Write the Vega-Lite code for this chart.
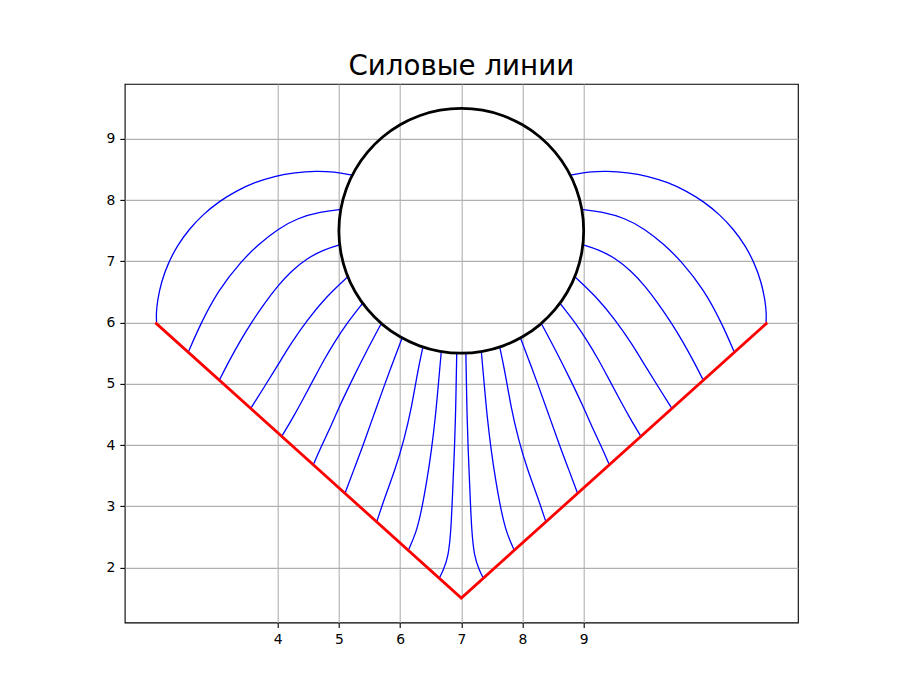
{
  "$schema": "https://vega.github.io/schema/vega-lite/v6.json",
  "width": 673.2,
  "height": 538.6,
  "autosize": {"type": "none"},
  "padding": {"left": 124.7, "top": 83.9, "right": 102.1, "bottom": 77.5},
  "background": "white",
  "title": {"text": "Силовые линии", "font": "DejaVu Sans", "fontSize": 27.7, "fontWeight": "normal", "color": "black", "anchor": "middle", "baseline": "alphabetic", "offset": -19},
  "config": {
    "view": {"stroke": "black", "strokeWidth": 1.1},
    "axis": {"labelFont": "DejaVu Sans", "labelFontSize": 13.9, "labelColor": "black", "tickColor": "black", "tickSize": 4.9, "tickWidth": 1.1, "labelPadding": 4.9, "gridColor": "#b0b0b0", "gridWidth": 1.1, "gridOpacity": 1, "domain": false, "title": null, "labelFlush": false, "format": "d"}
  },
  "datasets": {
    "field": [
      {"line": "L1", "i": 0, "x": 5.22, "y": 8.41}, {"line": "L1", "i": 1, "x": 4.92, "y": 8.464}, {"line": "L1", "i": 2, "x": 4.626, "y": 8.477}, {"line": "L1", "i": 3, "x": 4.283, "y": 8.453}, {"line": "L1", "i": 4, "x": 3.949, "y": 8.394}, {"line": "L1", "i": 5, "x": 3.626, "y": 8.292}, {"line": "L1", "i": 6, "x": 3.319, "y": 8.15}, {"line": "L1", "i": 7, "x": 3.034, "y": 7.974}, {"line": "L1", "i": 8, "x": 2.778, "y": 7.765}, {"line": "L1", "i": 9, "x": 2.551, "y": 7.525}, {"line": "L1", "i": 10, "x": 2.361, "y": 7.26}, {"line": "L1", "i": 11, "x": 2.211, "y": 6.974}, {"line": "L1", "i": 12, "x": 2.101, "y": 6.673}, {"line": "L1", "i": 13, "x": 2.034, "y": 6.359}, {"line": "L1", "i": 14, "x": 2.015, "y": 6.15}, {"line": "L1", "i": 15, "x": 2.02, "y": 6.01},
      {"line": "L2", "i": 0, "x": 5.03, "y": 7.85}, {"line": "L2", "i": 1, "x": 4.7, "y": 7.81}, {"line": "L2", "i": 2, "x": 4.33, "y": 7.71}, {"line": "L2", "i": 3, "x": 4.0, "y": 7.53}, {"line": "L2", "i": 4, "x": 3.69, "y": 7.28}, {"line": "L2", "i": 5, "x": 3.4, "y": 7.0}, {"line": "L2", "i": 6, "x": 3.03, "y": 6.53}, {"line": "L2", "i": 7, "x": 2.742, "y": 5.987}, {"line": "L2", "i": 8, "x": 2.54, "y": 5.52},
      {"line": "L3", "i": 0, "x": 5.013, "y": 7.27}, {"line": "L3", "i": 1, "x": 4.75, "y": 7.19}, {"line": "L3", "i": 2, "x": 4.48, "y": 7.05}, {"line": "L3", "i": 3, "x": 4.22, "y": 6.84}, {"line": "L3", "i": 4, "x": 4.0, "y": 6.6}, {"line": "L3", "i": 5, "x": 3.78, "y": 6.31}, {"line": "L3", "i": 6, "x": 3.57, "y": 6.0}, {"line": "L3", "i": 7, "x": 3.38, "y": 5.69}, {"line": "L3", "i": 8, "x": 3.21, "y": 5.38}, {"line": "L3", "i": 9, "x": 3.046, "y": 5.06},
      {"line": "L4", "i": 0, "x": 5.146, "y": 6.751}, {"line": "L4", "i": 1, "x": 4.8, "y": 6.43}, {"line": "L4", "i": 2, "x": 4.479, "y": 6.04}, {"line": "L4", "i": 3, "x": 4.217, "y": 5.66}, {"line": "L4", "i": 4, "x": 4.0, "y": 5.3}, {"line": "L4", "i": 5, "x": 3.776, "y": 4.94}, {"line": "L4", "i": 6, "x": 3.56, "y": 4.6},
      {"line": "L5", "i": 0, "x": 5.388, "y": 6.316}, {"line": "L5", "i": 1, "x": 5.13, "y": 5.99}, {"line": "L5", "i": 2, "x": 4.94, "y": 5.7}, {"line": "L5", "i": 3, "x": 4.76, "y": 5.4}, {"line": "L5", "i": 4, "x": 4.58, "y": 5.06}, {"line": "L5", "i": 5, "x": 4.41, "y": 4.74}, {"line": "L5", "i": 6, "x": 4.245, "y": 4.44}, {"line": "L5", "i": 7, "x": 4.065, "y": 4.14},
      {"line": "L6", "i": 0, "x": 5.693, "y": 5.986}, {"line": "L6", "i": 1, "x": 5.443, "y": 5.518}, {"line": "L6", "i": 2, "x": 5.214, "y": 5.06}, {"line": "L6", "i": 3, "x": 5.018, "y": 4.652}, {"line": "L6", "i": 4, "x": 4.855, "y": 4.276}, {"line": "L6", "i": 5, "x": 4.708, "y": 3.966}, {"line": "L6", "i": 6, "x": 4.582, "y": 3.68},
      {"line": "L7", "i": 0, "x": 6.033, "y": 5.749}, {"line": "L7", "i": 1, "x": 5.884, "y": 5.355}, {"line": "L7", "i": 2, "x": 5.753, "y": 5.002}, {"line": "L7", "i": 3, "x": 5.574, "y": 4.505}, {"line": "L7", "i": 4, "x": 5.399, "y": 4.002}, {"line": "L7", "i": 5, "x": 5.247, "y": 3.606}, {"line": "L7", "i": 6, "x": 5.1, "y": 3.21},
      {"line": "L8", "i": 0, "x": 6.372, "y": 5.601}, {"line": "L8", "i": 1, "x": 6.281, "y": 5.17}, {"line": "L8", "i": 2, "x": 6.19, "y": 4.624}, {"line": "L8", "i": 3, "x": 6.064, "y": 4.08}, {"line": "L8", "i": 4, "x": 5.917, "y": 3.59}, {"line": "L8", "i": 5, "x": 5.753, "y": 3.154}, {"line": "L8", "i": 6, "x": 5.618, "y": 2.745},
      {"line": "L9", "i": 0, "x": 6.673, "y": 5.527}, {"line": "L9", "i": 1, "x": 6.627, "y": 5.011}, {"line": "L9", "i": 2, "x": 6.578, "y": 4.461}, {"line": "L9", "i": 3, "x": 6.513, "y": 3.917}, {"line": "L9", "i": 4, "x": 6.44, "y": 3.426}, {"line": "L9", "i": 5, "x": 6.342, "y": 2.887}, {"line": "L9", "i": 6, "x": 6.26, "y": 2.56}, {"line": "L9", "i": 7, "x": 6.134, "y": 2.28},
      {"line": "L10", "i": 0, "x": 6.925, "y": 5.501}, {"line": "L10", "i": 1, "x": 6.913, "y": 4.734}, {"line": "L10", "i": 2, "x": 6.889, "y": 3.917}, {"line": "L10", "i": 3, "x": 6.856, "y": 3.18}, {"line": "L10", "i": 4, "x": 6.832, "y": 2.609}, {"line": "L10", "i": 5, "x": 6.788, "y": 2.173}, {"line": "L10", "i": 6, "x": 6.706, "y": 1.956}, {"line": "L10", "i": 7, "x": 6.641, "y": 1.825},
      {"line": "R1", "i": 0, "x": 8.78, "y": 8.41}, {"line": "R1", "i": 1, "x": 9.08, "y": 8.464}, {"line": "R1", "i": 2, "x": 9.374, "y": 8.477}, {"line": "R1", "i": 3, "x": 9.717, "y": 8.453}, {"line": "R1", "i": 4, "x": 10.051, "y": 8.394}, {"line": "R1", "i": 5, "x": 10.374, "y": 8.292}, {"line": "R1", "i": 6, "x": 10.681, "y": 8.15}, {"line": "R1", "i": 7, "x": 10.966, "y": 7.974}, {"line": "R1", "i": 8, "x": 11.222, "y": 7.765}, {"line": "R1", "i": 9, "x": 11.449, "y": 7.525}, {"line": "R1", "i": 10, "x": 11.639, "y": 7.26}, {"line": "R1", "i": 11, "x": 11.789, "y": 6.974}, {"line": "R1", "i": 12, "x": 11.899, "y": 6.673}, {"line": "R1", "i": 13, "x": 11.966, "y": 6.359}, {"line": "R1", "i": 14, "x": 11.985, "y": 6.15}, {"line": "R1", "i": 15, "x": 11.98, "y": 6.01},
      {"line": "R2", "i": 0, "x": 8.97, "y": 7.85}, {"line": "R2", "i": 1, "x": 9.3, "y": 7.81}, {"line": "R2", "i": 2, "x": 9.67, "y": 7.71}, {"line": "R2", "i": 3, "x": 10.0, "y": 7.53}, {"line": "R2", "i": 4, "x": 10.31, "y": 7.28}, {"line": "R2", "i": 5, "x": 10.6, "y": 7.0}, {"line": "R2", "i": 6, "x": 10.97, "y": 6.53}, {"line": "R2", "i": 7, "x": 11.258, "y": 5.987}, {"line": "R2", "i": 8, "x": 11.46, "y": 5.52},
      {"line": "R3", "i": 0, "x": 8.987, "y": 7.27}, {"line": "R3", "i": 1, "x": 9.25, "y": 7.19}, {"line": "R3", "i": 2, "x": 9.52, "y": 7.05}, {"line": "R3", "i": 3, "x": 9.78, "y": 6.84}, {"line": "R3", "i": 4, "x": 10.0, "y": 6.6}, {"line": "R3", "i": 5, "x": 10.22, "y": 6.31}, {"line": "R3", "i": 6, "x": 10.43, "y": 6.0}, {"line": "R3", "i": 7, "x": 10.62, "y": 5.69}, {"line": "R3", "i": 8, "x": 10.79, "y": 5.38}, {"line": "R3", "i": 9, "x": 10.954, "y": 5.06},
      {"line": "R4", "i": 0, "x": 8.854, "y": 6.751}, {"line": "R4", "i": 1, "x": 9.2, "y": 6.43}, {"line": "R4", "i": 2, "x": 9.521, "y": 6.04}, {"line": "R4", "i": 3, "x": 9.783, "y": 5.66}, {"line": "R4", "i": 4, "x": 10.0, "y": 5.3}, {"line": "R4", "i": 5, "x": 10.224, "y": 4.94}, {"line": "R4", "i": 6, "x": 10.44, "y": 4.6},
      {"line": "R5", "i": 0, "x": 8.612, "y": 6.316}, {"line": "R5", "i": 1, "x": 8.87, "y": 5.99}, {"line": "R5", "i": 2, "x": 9.06, "y": 5.7}, {"line": "R5", "i": 3, "x": 9.24, "y": 5.4}, {"line": "R5", "i": 4, "x": 9.42, "y": 5.06}, {"line": "R5", "i": 5, "x": 9.59, "y": 4.74}, {"line": "R5", "i": 6, "x": 9.755, "y": 4.44}, {"line": "R5", "i": 7, "x": 9.935, "y": 4.14},
      {"line": "R6", "i": 0, "x": 8.307, "y": 5.986}, {"line": "R6", "i": 1, "x": 8.557, "y": 5.518}, {"line": "R6", "i": 2, "x": 8.786, "y": 5.06}, {"line": "R6", "i": 3, "x": 8.982, "y": 4.652}, {"line": "R6", "i": 4, "x": 9.145, "y": 4.276}, {"line": "R6", "i": 5, "x": 9.292, "y": 3.966}, {"line": "R6", "i": 6, "x": 9.418, "y": 3.68},
      {"line": "R7", "i": 0, "x": 7.967, "y": 5.749}, {"line": "R7", "i": 1, "x": 8.116, "y": 5.355}, {"line": "R7", "i": 2, "x": 8.247, "y": 5.002}, {"line": "R7", "i": 3, "x": 8.426, "y": 4.505}, {"line": "R7", "i": 4, "x": 8.601, "y": 4.002}, {"line": "R7", "i": 5, "x": 8.753, "y": 3.606}, {"line": "R7", "i": 6, "x": 8.9, "y": 3.21},
      {"line": "R8", "i": 0, "x": 7.628, "y": 5.601}, {"line": "R8", "i": 1, "x": 7.719, "y": 5.17}, {"line": "R8", "i": 2, "x": 7.81, "y": 4.624}, {"line": "R8", "i": 3, "x": 7.936, "y": 4.08}, {"line": "R8", "i": 4, "x": 8.083, "y": 3.59}, {"line": "R8", "i": 5, "x": 8.247, "y": 3.154}, {"line": "R8", "i": 6, "x": 8.382, "y": 2.745},
      {"line": "R9", "i": 0, "x": 7.327, "y": 5.527}, {"line": "R9", "i": 1, "x": 7.373, "y": 5.011}, {"line": "R9", "i": 2, "x": 7.422, "y": 4.461}, {"line": "R9", "i": 3, "x": 7.487, "y": 3.917}, {"line": "R9", "i": 4, "x": 7.56, "y": 3.426}, {"line": "R9", "i": 5, "x": 7.658, "y": 2.887}, {"line": "R9", "i": 6, "x": 7.74, "y": 2.56}, {"line": "R9", "i": 7, "x": 7.866, "y": 2.28},
      {"line": "R10", "i": 0, "x": 7.075, "y": 5.501}, {"line": "R10", "i": 1, "x": 7.087, "y": 4.734}, {"line": "R10", "i": 2, "x": 7.111, "y": 3.917}, {"line": "R10", "i": 3, "x": 7.144, "y": 3.18}, {"line": "R10", "i": 4, "x": 7.168, "y": 2.609}, {"line": "R10", "i": 5, "x": 7.212, "y": 2.173}, {"line": "R10", "i": 6, "x": 7.294, "y": 1.956}, {"line": "R10", "i": 7, "x": 7.359, "y": 1.825}
    ],
    "wall": [
      {"i": 0, "x": 2, "y": 6},
      {"i": 1, "x": 7, "y": 1.5},
      {"i": 2, "x": 12, "y": 6}
    ],
    "circle": [
      {"a": 0, "x": 9, "y": 7.5}, {"a": 10, "x": 8.9696, "y": 7.8473}, {"a": 20, "x": 8.8794, "y": 8.184}, {"a": 30, "x": 8.7321, "y": 8.5}, {"a": 40, "x": 8.5321, "y": 8.7856}, {"a": 50, "x": 8.2856, "y": 9.0321}, {"a": 60, "x": 8.0, "y": 9.2321}, {"a": 70, "x": 7.684, "y": 9.3794}, {"a": 80, "x": 7.3473, "y": 9.4696},
      {"a": 90, "x": 7, "y": 9.5}, {"a": 100, "x": 6.6527, "y": 9.4696}, {"a": 110, "x": 6.316, "y": 9.3794}, {"a": 120, "x": 6.0, "y": 9.2321}, {"a": 130, "x": 5.7144, "y": 9.0321}, {"a": 140, "x": 5.4679, "y": 8.7856}, {"a": 150, "x": 5.2679, "y": 8.5}, {"a": 160, "x": 5.1206, "y": 8.184}, {"a": 170, "x": 5.0304, "y": 7.8473},
      {"a": 180, "x": 5, "y": 7.5}, {"a": 190, "x": 5.0304, "y": 7.1527}, {"a": 200, "x": 5.1206, "y": 6.816}, {"a": 210, "x": 5.2679, "y": 6.5}, {"a": 220, "x": 5.4679, "y": 6.2144}, {"a": 230, "x": 5.7144, "y": 5.9679}, {"a": 240, "x": 6.0, "y": 5.7679}, {"a": 250, "x": 6.316, "y": 5.6206}, {"a": 260, "x": 6.6527, "y": 5.5304},
      {"a": 270, "x": 7, "y": 5.5}, {"a": 280, "x": 7.3473, "y": 5.5304}, {"a": 290, "x": 7.684, "y": 5.6206}, {"a": 300, "x": 8.0, "y": 5.7679}, {"a": 310, "x": 8.2856, "y": 5.9679}, {"a": 320, "x": 8.5321, "y": 6.2144}, {"a": 330, "x": 8.7321, "y": 6.5}, {"a": 340, "x": 8.8794, "y": 6.816}, {"a": 350, "x": 8.9696, "y": 7.1527}
    ]
  },
  "layer": [
    {
      "data": {"name": "field"},
      "mark": {"type": "line", "color": "#0000ff", "strokeWidth": 1.3, "interpolate": "basis", "clip": true},
      "encoding": {
        "x": {"field": "x", "type": "quantitative", "scale": {"domain": [1.5, 12.5], "nice": false, "zero": false}, "axis": {"values": [4, 5, 6, 7, 8, 9]}},
        "y": {"field": "y", "type": "quantitative", "scale": {"domain": [1.1, 9.9], "nice": false, "zero": false}, "axis": {"values": [2, 3, 4, 5, 6, 7, 8, 9]}},
        "detail": {"field": "line", "type": "nominal"},
        "order": {"field": "i", "type": "quantitative"}
      }
    },
    {
      "data": {"name": "wall"},
      "mark": {"type": "line", "color": "#ff0000", "strokeWidth": 2.8, "clip": true},
      "encoding": {
        "x": {"field": "x", "type": "quantitative"},
        "y": {"field": "y", "type": "quantitative"},
        "order": {"field": "i", "type": "quantitative"}
      }
    },
    {
      "data": {"name": "circle"},
      "mark": {"type": "line", "color": "black", "strokeWidth": 2.8, "interpolate": "cardinal-closed", "clip": true},
      "encoding": {
        "x": {"field": "x", "type": "quantitative"},
        "y": {"field": "y", "type": "quantitative"},
        "order": {"field": "a", "type": "quantitative"}
      }
    }
  ]
}
